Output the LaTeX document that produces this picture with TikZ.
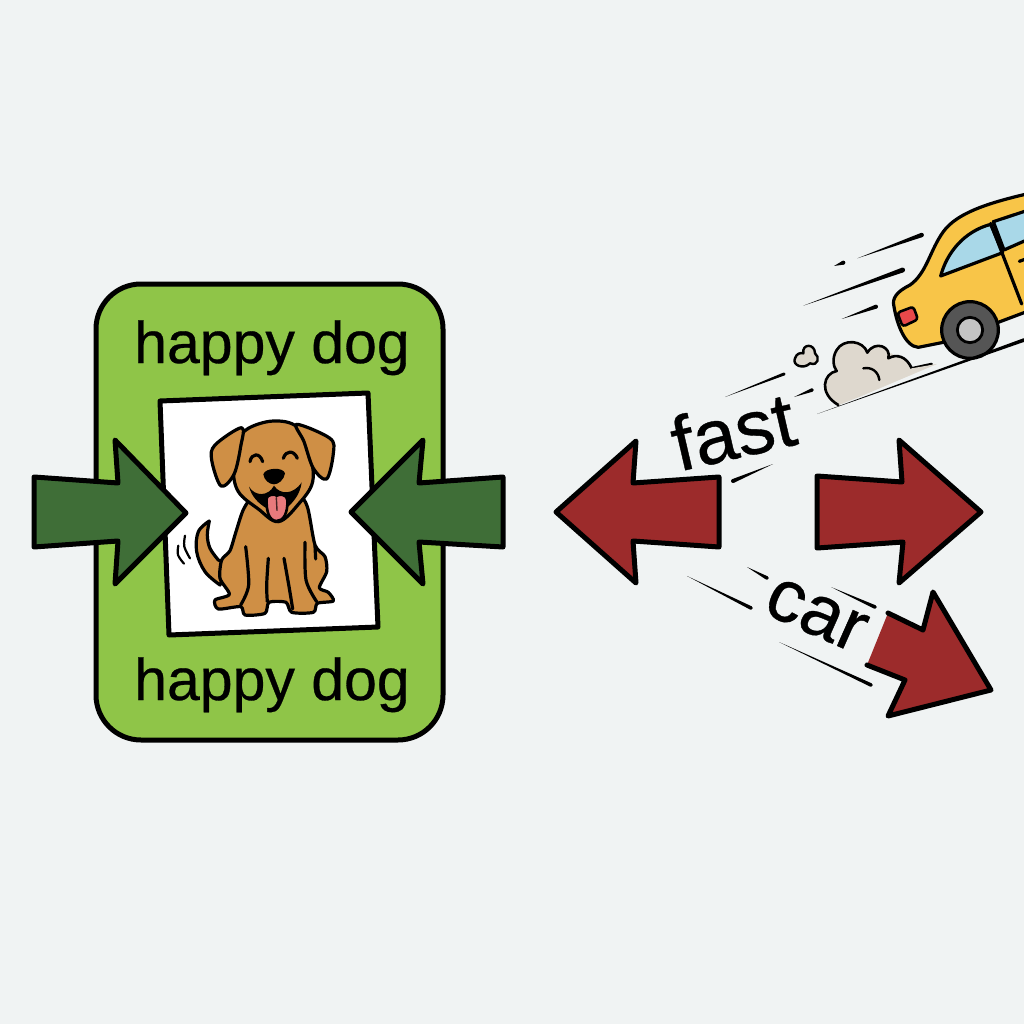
\documentclass[tikz,border=0pt]{standalone}
\usepackage{fontspec}
\setmainfont{Liberation Sans}
\newfontfamily\heavyface[FakeBold=0.5]{Liberation Sans}
\usetikzlibrary{calc}
\definecolor{paper}{HTML}{F0F3F3}
\definecolor{leaf}{HTML}{8FC548}
\definecolor{pine}{HTML}{3F6E37}
\definecolor{brick}{HTML}{9C2B2B}
\definecolor{fur}{HTML}{CF8F45}
\definecolor{tongue}{HTML}{E87A7C}
\definecolor{cab}{HTML}{F8C548}
\definecolor{glass}{HTML}{A9D8E8}
\definecolor{lamp}{HTML}{E8484A}
\definecolor{dust}{HTML}{DED8CE}
\definecolor{tyre}{HTML}{555555}
\definecolor{hub}{HTML}{C4C4C4}
\tikzset{
  outline/.style={draw=black,line width=5pt,line join=round},
  arrowgreen/.style={outline,fill=pine},
  arrowred/.style={outline,fill=brick},
  ink/.style={draw=black,line width=3.2pt,line join=round,line cap=round},
  fine/.style={draw=black,line width=2.2pt,line cap=round},
  label/.style={inner sep=0pt,text=black,font=\heavyface},
  zoomdog/.style={shift={(150,385)},x=.33333pt,y=-.33333pt},
  zoomcar/.style={shift={(780,190)},x=.33333pt,y=-.33333pt}
}
% A speed streak that swells from a thin tail to a round head
\newcommand{\streak}[3]{%
  \fill ($(#2)!#3!90:(#1)$) -- (#1) -- ($(#2)!#3!-90:(#1)$) -- cycle;
  \fill (#2) circle (#3);}
\begin{document}
\begin{tikzpicture}[x=1pt,y=-1pt]
\useasboundingbox (0,0) rectangle (1024,1024);
\clip (0,0) rectangle (1024,1024);
\fill[paper] (0,0) rectangle (1024,1024);

% Card with its two captions
\draw[outline,fill=leaf,rounded corners=45pt] (96,284) rectangle (443,740);
\node[label,anchor=base] (captop) at (272,363) {\fontsize{59}{61}\selectfont happy dog};
\node[label,anchor=base] (capbot) at (272,700) {\fontsize{59}{61}\selectfont happy dog};
\draw[outline,fill=white] (160,401) -- (368,393) -- (378,627) -- (169,635) -- cycle;

% Dog
\begin{scope}[zoomdog]
  \draw[ink,fill=fur] plot[smooth,tension=.6] coordinates {(178,408) (145,440) (140,500) (165,560) (210,600)} -- (235,540) -- plot[smooth,tension=.6] coordinates {(205,525) (180,490) (172,450) (178,408)};
  \draw[fine] plot[smooth,tension=.6] coordinates {(105,452) (103,485) (120,520)};
  \draw[fine] plot[smooth,tension=.6] coordinates {(85,482) (84,510) (102,536)};
  \draw[ink,fill=fur] plot[smooth cycle,tension=.45] coordinates {
    (320,330) (282,370) (258,440) (240,497) (215,525) (210,580) (238,628) (195,645) (205,672) (272,665)
    (285,690) (345,685) (357,652) (408,652) (425,682) (490,682) (502,655) (550,648) (535,622)
    (508,608) (530,560) (525,515) (495,480) (472,365) (440,330)};
  \draw[ink] plot[smooth,tension=.5] coordinates {(287,485) (296,600) (272,660)};
  \draw[ink] plot[smooth,tension=.5] coordinates {(355,520) (350,600) (352,650)};
  \draw[ink] plot[smooth,tension=.5] coordinates {(402,520) (418,610) (428,672)};
  \draw[ink] plot[smooth,tension=.5] coordinates {(465,472) (468,585) (500,650)};
  \draw[ink] (495,482) -- (497,522);
  \draw[ink,fill=fur] plot[smooth cycle,tension=.6] coordinates {
    (295,130) (370,108) (440,125) (478,200) (488,290) (445,358) (385,410) (325,372) (265,320) (250,250) (265,170)};
  \draw[ink,fill=fur] plot[smooth cycle,tension=.55] coordinates {
    (275,128) (195,180) (185,225) (213,303) (252,268) (272,185)};
  \draw[ink,fill=fur] plot[smooth cycle,tension=.55] coordinates {
    (440,118) (540,160) (550,205) (530,282) (490,250) (462,170)};
  \draw[ink] (300,230) .. controls (305,203) and (330,203) .. (338,230);
  \draw[ink] (400,220) .. controls (408,195) and (432,195) .. (442,220);
  \fill (340,268) .. controls (345,248) and (400,245) .. (405,265) .. controls (402,285) and (385,298) .. (372,298) .. controls (358,298) and (342,285) .. (340,268) -- cycle;
  \fill (297,305) .. controls (315,335) and (355,335) .. (372,302) .. controls (390,330) and (430,330) .. (455,292)
    .. controls (450,330) and (430,350) .. (410,370) -- (350,370) .. controls (325,355) and (305,335) .. (297,305) -- cycle;
  \draw[ink,line width=2.6pt,fill=tongue] (350,340) .. controls (350,330) and (375,325) .. (380,332) .. controls (390,325) and (412,330) .. (412,345)
    .. controls (414,385) and (400,408) .. (380,408) .. controls (358,408) and (348,380) .. (350,340) -- cycle;
  \draw[draw=black!70!tongue,line width=1.4pt,line cap=round] (379,338) -- (381,376);
\end{scope}

% Green arrows pressing inward on the picture
\draw[arrowgreen] (34,477) -- (118,483) -- (115,440) -- (186,513) -- (115,584) -- (118,541) -- (34,547) -- cycle;
\draw[arrowgreen] (503,477) -- (419,483) -- (423,440) -- (351,512) -- (423,584) -- (419,542) -- (503,547) -- cycle;

% Red arrows pointing outward
\draw[arrowred] (719,477) -- (633,483) -- (636,441) -- (556,512) -- (636,583) -- (633,541) -- (719,547) -- cycle;
\draw[arrowred] (817,476) -- (902,482) -- (899,440) -- (981,512) -- (899,583) -- (903,542) -- (817,548) -- cycle;
\fill[brick] (888,613) -- (923,630) -- (933,592) -- (991,690) -- (888,716) -- (905,680) -- (867,665) -- cycle;
\draw[outline,line cap=round] (888,613) -- (923,630) -- (933,592) -- (991,690) -- (888,716) -- (905,680) -- (867,665);

% Slanted words
\node[label,rotate=13] (fastword) at (733,431) {\fontsize{77}{79}\selectfont fast};
\node[label,rotate=-24] (carword) at (816,615) {\fontsize{74}{76}\selectfont car};

% Streaks around the words
\streak{725,397}{784,374}{1.5pt}
\streak{794,397}{812,390}{1.8pt}
\streak{773,464}{733,481}{2pt}
\streak{687,576}{751,608}{1.8pt}
\streak{747,567}{767,578}{1.8pt}
\streak{831,587}{875,607}{1.8pt}
\streak{779,642}{871,685}{1.8pt}

% Dust and car
\begin{scope}[zoomcar]
  \fill[dust] (175,645) -- (470,522) -- (395,535) -- (335,490) -- (265,490) -- (215,458) -- (160,490) -- (165,540) -- (130,590) -- cycle;
  \draw[ink,fill=dust,line width=2.6pt] (455,522) -- (395,535) .. controls (380,500) and (350,490) .. (325,505)
    .. controls (335,470) and (285,450) .. (262,488) .. controls (250,450) and (190,445) .. (170,480)
    .. controls (155,505) and (160,530) .. (170,543) .. controls (130,550) and (115,610) .. (175,645);
  \fill[dust] (470,522) -- (395,535) -- (175,645) -- (240,620) -- cycle;
  \draw[ink,line width=2.4pt] (250,535) .. controls (275,530) and (295,545) .. (298,570);
  % Small puff of three lobes
  \draw[ink,fill=dust,line width=2.4pt] (70,490) .. controls (65,460) and (105,460) .. (105,490)
    .. controls (120,500) and (115,530) .. (90,520) .. controls (70,540) and (35,525) .. (45,505)
    .. controls (50,490) and (60,488) .. (70,490) -- cycle;
  \streak{232,205}{425,135}{2.2pt}
  \streak{162,228}{190,218}{2pt}
  \streak{70,347}{368,240}{2.4pt}
  \streak{185,387}{288,350}{2pt}
  % Car body
  \draw[ink,fill=cab] (740,12) .. controls (620,40) and (530,70) .. (490,125)
    .. controls (450,180) and (440,250) .. (390,285) .. controls (350,305) and (335,325) .. (342,350)
    .. controls (350,400) and (375,470) .. (415,472) -- (500,455) -- (740,365) -- cycle;
  \draw[ink,fill=glass] (482,258) .. controls (500,190) and (550,125) .. (632,103) -- (668,188) -- cycle;
  \draw[ink,fill=glass] (640,95) -- (740,62) -- (740,150) -- (672,180) -- cycle;
  \draw[ink] (632,100) -- (725,342);
  \draw[ink] (718,214) -- (740,206);
  \draw[ink,line width=2.6pt,fill=lamp,rounded corners=3pt] (352,368) -- (400,350) -- (414,388) -- (368,410) -- cycle;
  % Wheel
  \draw[ink,fill=tyre] (570,420) circle (85);
  \draw[ink,line width=2.8pt,fill=hub] (570,420) circle (38);
\end{scope}
\streak{817,414}{1024,340}{1.8pt}
\end{tikzpicture}
\end{document}
